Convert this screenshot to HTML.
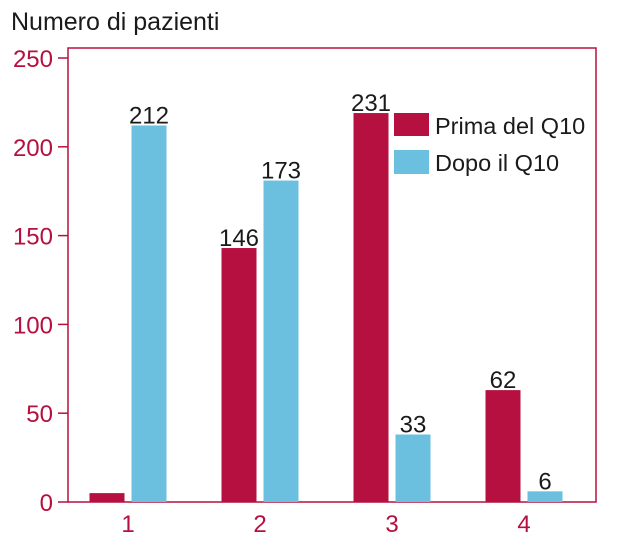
<!DOCTYPE html>
<html><head><meta charset="utf-8"><style>
body{margin:0;background:#fff;}
svg{display:block;font-family:"Liberation Sans",sans-serif;}
</style></head><body>
<svg id="chart" width="620" height="543">
<text x="11" y="30" font-size="25" fill="#1a1a1a">Numero di pazienti</text>
<rect x="68" y="48" width="528" height="454" fill="none" stroke="#b5103f" stroke-width="1.5"/>
<g id="ticks"></g>
<g id="bars"></g>
<g>
<rect x="394" y="113" width="35" height="23" fill="#b5103f"/>
<text x="435" y="134" font-size="23.5" fill="#1a1a1a">Prima del Q10</text>
<rect x="394" y="150" width="35" height="24" fill="#6bbfdf"/>
<text x="435" y="171" font-size="23.5" fill="#1a1a1a">Dopo il Q10</text>
</g>
</svg>
<script>
const categories = ["1","2","3","4"];
const primaValues = [5,143,219,63];
const dopoValues = [212,181,38,6];
const primaLabels = ["","146","231","62"];
const dopoLabels = ["212","173","33","6"];
const yTicks = [0,50,100,150,200,250];

const NS="http://www.w3.org/2000/svg";
const y0=502, y250=58;
function y(v){return y0-(y0-y250)*v/250;}
function xc(i){return 128+i*132;}
const bw=35, gap=7;
const tg=document.getElementById('ticks'), bg=document.getElementById('bars');
function mk(tag,attrs,parent){const e=document.createElementNS(NS,tag);for(const k in attrs)e.setAttribute(k,attrs[k]);parent.appendChild(e);return e;}
yTicks.forEach(t=>{
  const l=mk('line',{x1:58,x2:68,y1:y(t),y2:y(t),stroke:'#b5103f','stroke-width':1.5},tg);
  
  
  const tx=mk('text',{x:53,y:y(t)+9,'font-size':24,fill:'#b5103f','text-anchor':'end'},tg);
  tx.textContent=t;
  
  
});
categories.forEach((c,i)=>{
  const cx=xc(i);
  const tx=mk('text',{x:cx,y:532,'font-size':24,fill:'#b5103f','text-anchor':'middle'},tg);
  tx.textContent=c;
  
  
  const xr=cx-gap/2-bw, xb=cx+gap/2;
  const r=mk('rect',{x:xr,y:y(primaValues[i]),width:bw,height:y0-y(primaValues[i]),fill:'#b5103f'},bg);
  
  
  const b=mk('rect',{x:xb,y:y(dopoValues[i]),width:bw,height:y0-y(dopoValues[i]),fill:'#6bbfdf'},bg);
  
  
  if(primaLabels[i]){
    const t=mk('text',{x:xr+bw/2,y:y(primaValues[i])-2,'font-size':24,fill:'#1a1a1a','text-anchor':'middle'},bg);
    t.textContent=primaLabels[i];
    
    
  }
  const t2=mk('text',{x:xb+bw/2,y:y(dopoValues[i])-2,'font-size':24,fill:'#1a1a1a','text-anchor':'middle'},bg);
  t2.textContent=dopoLabels[i];
  
  
});
</script>
</body></html>
